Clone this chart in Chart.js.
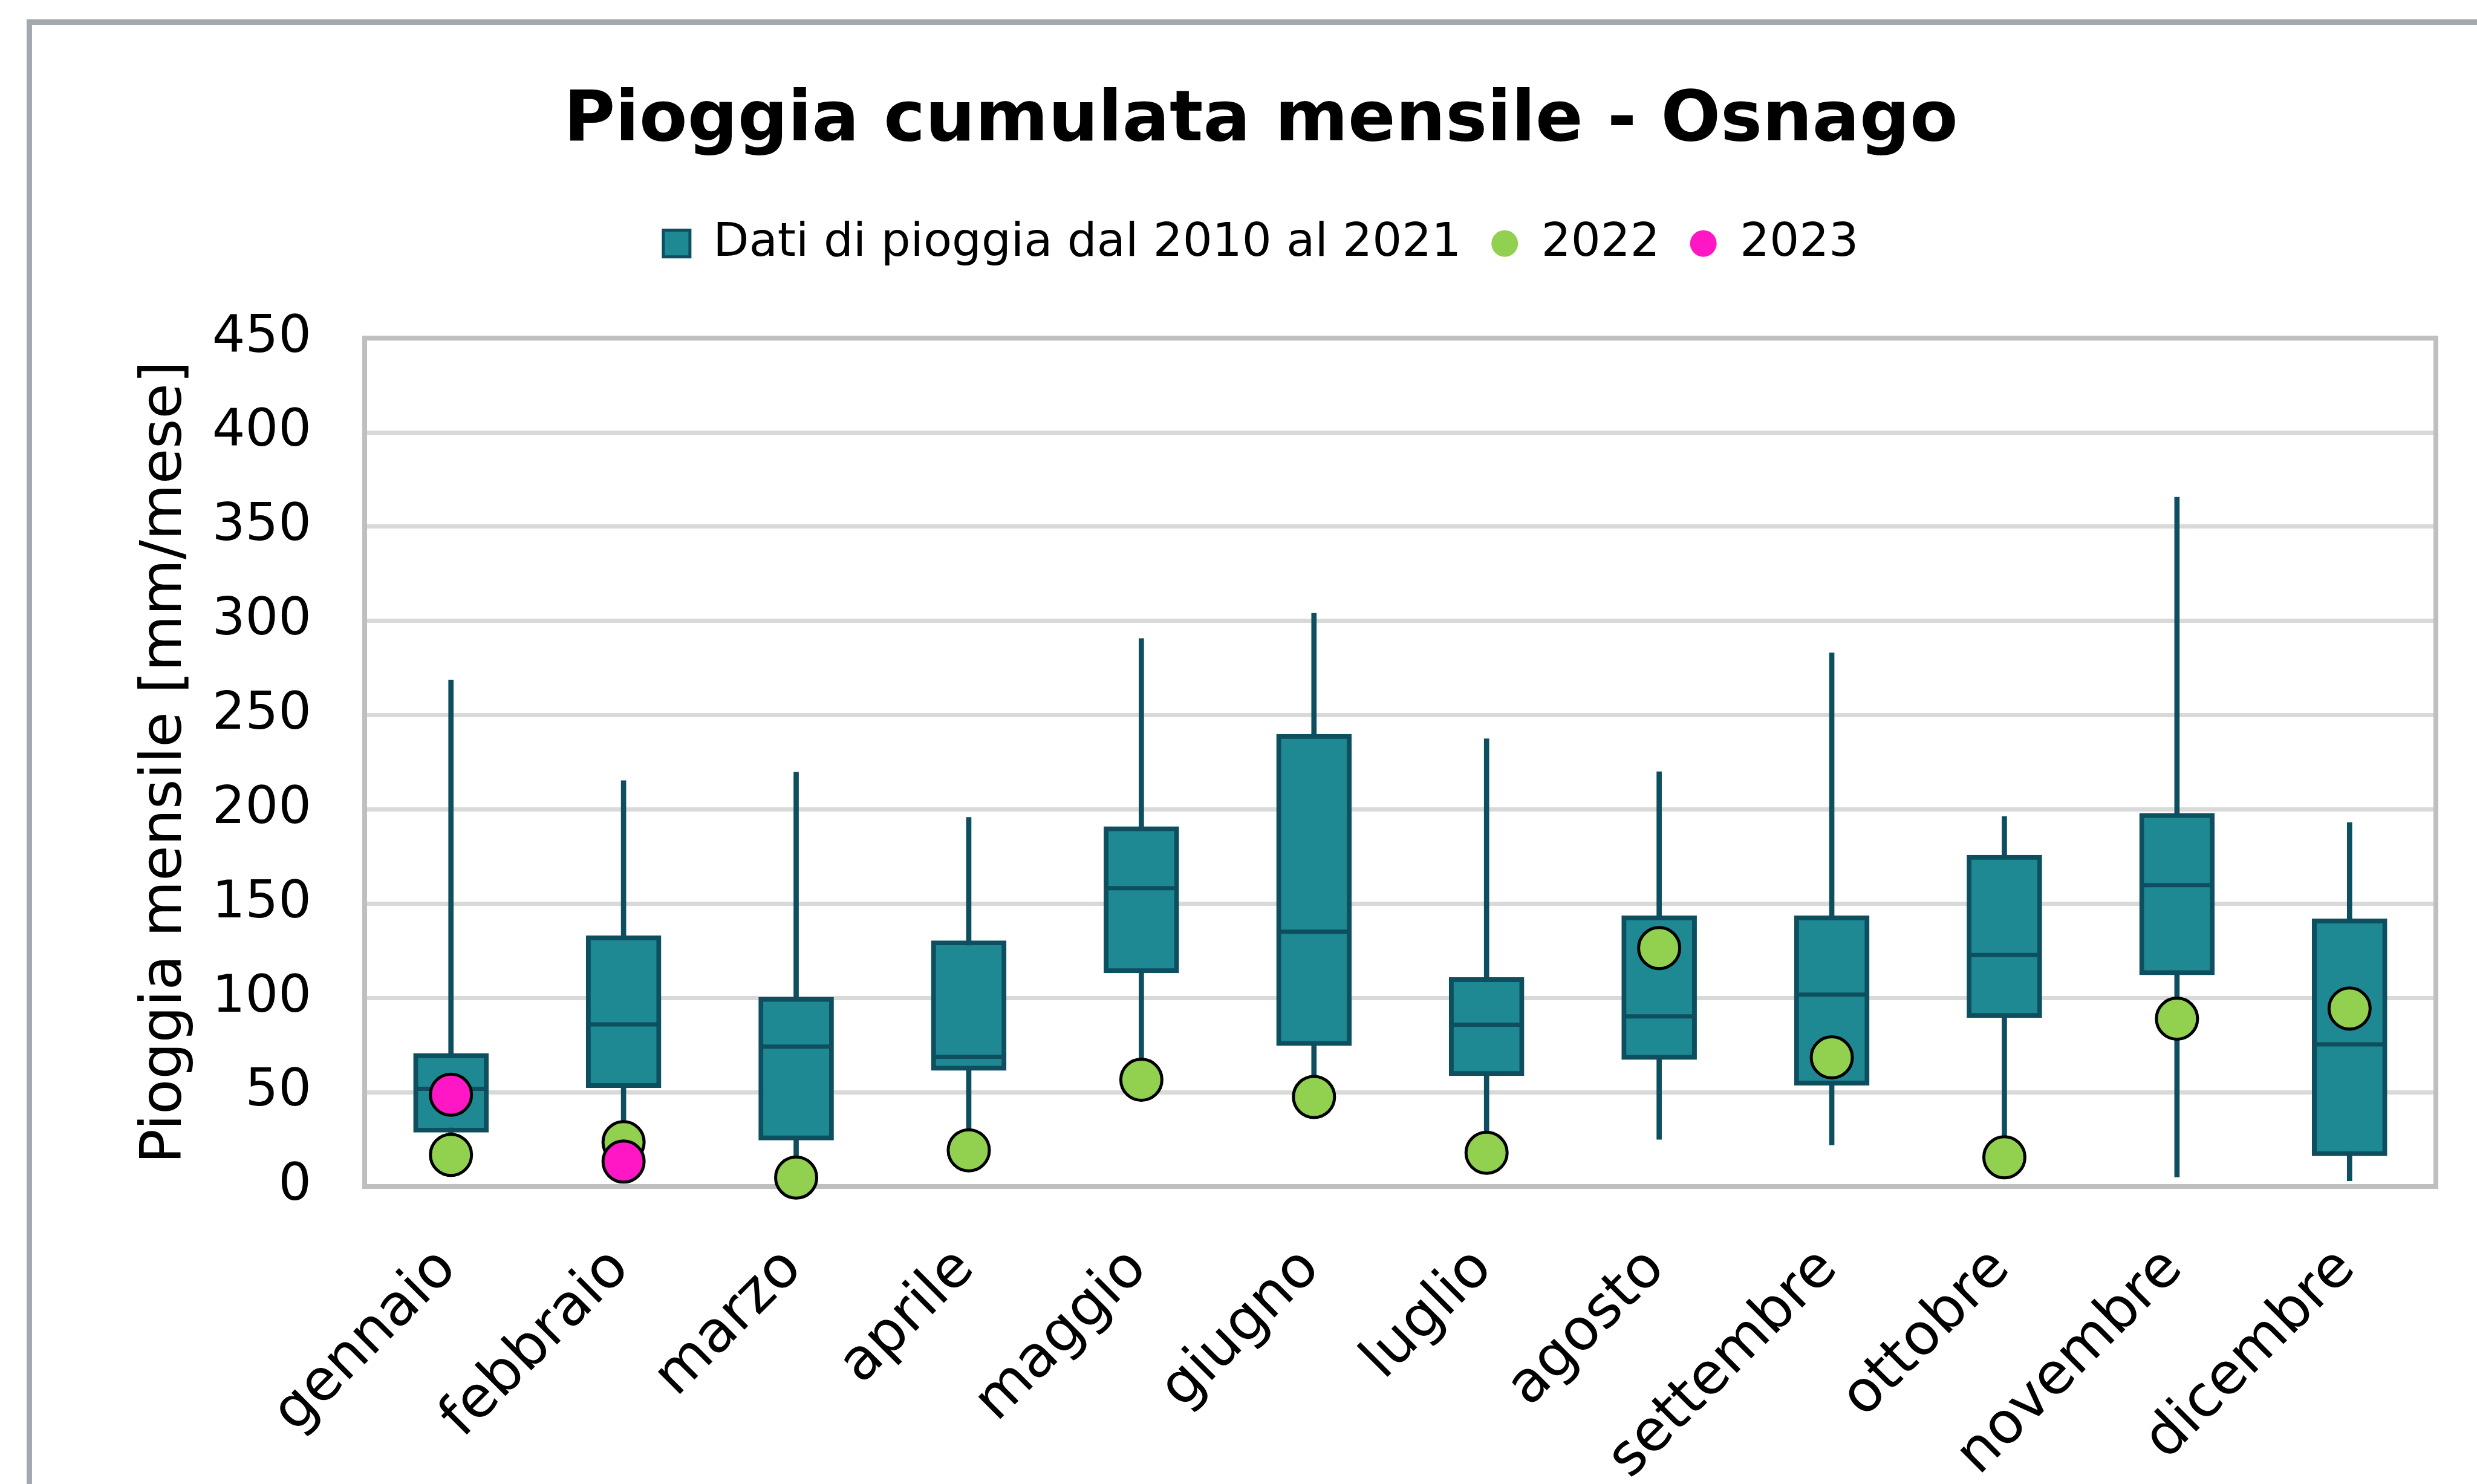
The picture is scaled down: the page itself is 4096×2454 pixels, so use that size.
<!DOCTYPE html>
<html lang="it">
<head>
<meta charset="utf-8">
<title>Pioggia cumulata mensile - Osnago</title>
<script src="https://cdn.jsdelivr.net/npm/chart.js@4.4.1/dist/chart.umd.min.js"></script>
<style>
  html, body { margin: 0; padding: 0; background: #fff; overflow: hidden; }
  #wrap { position: relative; width: 4096px; height: 2454px; }
  #frame { position: absolute; left: 44px; top: 32px; right: -30px; bottom: -30px; border: 9px solid #a2a7b0; }
  #chart { position: absolute; left: 0; top: 0; }
</style>
</head>
<body>
<div id="wrap">
  <div id="frame"></div>
  <canvas id="chart" width="4096" height="2454"></canvas>
</div>
<script>
// mesi
const mesi = ['gennaio', 'febbraio', 'marzo', 'aprile', 'maggio', 'giugno',
  'luglio', 'agosto', 'settembre', 'ottobre', 'novembre', 'dicembre'];

// statistiche 2010-2021 (mm/mese)
const minimo  = [20, 25, 6, 20, 57, 48, 18, 25, 22, 16, 5, 3];
const q1      = [28.7, 52.4, 24.6, 61.5, 113.3, 74.7, 58.7, 67.3, 53.7, 89.5, 112.2, 16.2];
const mediana = [51.8, 86, 74.2, 68.8, 158.2, 135.1, 85.8, 90.2, 101.8, 122.8, 159.8, 75.4];
const q3      = [70.6, 133, 100.5, 130.4, 190.9, 239.9, 110.9, 143.7, 143.7, 175.8, 198, 142];
const massimo = [268.7, 215.3, 219.8, 195.8, 290.7, 304.1, 237.5, 220, 283.1, 196.3, 365.7, 193.1];

// anni singoli
const pioggia2022 = [16.8, 23.5, 4.7, 19.2, 56.6, 47.5, 17.9, 126.5, 68.5, 15.5, 89, 94.4];
const pioggia2023 = [48.7, 13.2, null, null, null, null, null, null, null, null, null, null];

// assi
const yMin = 0;
const yMax = 450;
const yStep = 50;

const tealFill = '#1f8993';
const tealDark = '#0e4f5f';
const verde = '#92d050';
const rosa = '#ff17c6';
const font = 'DejaVu Sans';

// bordo dell'area del grafico
const plotBorder = {
  id: 'plotBorder',
  beforeDatasetsDraw(chart) {
    const { ctx, chartArea: a } = chart;
    ctx.save();
    ctx.strokeStyle = '#bfbfbf';
    ctx.lineWidth = 8;
    ctx.strokeRect(a.left, a.top, a.right - a.left, a.bottom - a.top);
    ctx.restore();
  }
};

const ctx = document.getElementById('chart').getContext('2d');

new Chart(ctx, {
  data: {
    labels: mesi,
    datasets: [
      {
        type: 'bar',
        label: 'baffi',
        data: mesi.map((m, i) => [minimo[i], massimo[i]]),
        backgroundColor: tealDark,
        borderWidth: 0,
        barThickness: 8,
        grouped: false,
        order: 5
      },
      {
        type: 'bar',
        label: 'Dati di pioggia dal 2010 al 2021',
        data: mesi.map((m, i) => [q1[i], q3[i]]),
        backgroundColor: tealFill,
        borderColor: tealDark,
        borderWidth: 8,
        borderSkipped: false,
        barThickness: 124,
        grouped: false,
        order: 4
      },
      {
        type: 'line',
        label: 'mediana',
        data: mediana,
        showLine: false,
        pointStyle: 'line',
        pointRadius: 58,
        pointHoverRadius: 58,
        pointBorderWidth: 7,
        pointBorderColor: tealDark,
        order: 3
      },
      {
        type: 'line',
        label: '2022',
        data: pioggia2022,
        showLine: false,
        pointStyle: 'circle',
        pointRadius: 34,
        pointHoverRadius: 34,
        pointBorderWidth: 5,
        pointBackgroundColor: verde,
        pointBorderColor: '#000',
        clip: false,
        order: 2
      },
      {
        type: 'line',
        label: '2023',
        data: pioggia2023,
        showLine: false,
        pointStyle: 'circle',
        pointRadius: 34,
        pointHoverRadius: 34,
        pointBorderWidth: 5,
        pointBackgroundColor: rosa,
        pointBorderColor: '#000',
        clip: false,
        order: 1
      }
    ]
  },
  options: {
    responsive: false,
    animation: false,
    devicePixelRatio: 1,
    events: [],
    layout: { padding: { left: 142, right: 68, top: 60, bottom: 0 } },
    plugins: {
      tooltip: { enabled: false },
      title: {
        display: true,
        text: 'Pioggia cumulata mensile - Osnago',
        color: '#000',
        font: { family: font, size: 116, weight: 'bold' },
        padding: { top: 72, bottom: 43 }
      },
      subtitle: {
        // solo spazio tra legenda e grafico
        display: true,
        text: '',
        weight: 500,
        font: { size: 10 },
        padding: { top: 0, bottom: 96 }
      },
      legend: {
        display: true,
        position: 'top',
        labels: {
          color: '#000',
          font: { family: font, size: 77 },
          boxWidth: 44,
          boxHeight: 44,
          padding: 50,
          generateLabels: () => [
            { text: 'Dati di pioggia dal 2010 al 2021', fillStyle: tealFill, strokeStyle: tealDark, lineWidth: 5, borderRadius: 0, datasetIndex: 1, hidden: false },
            { text: '2022', fillStyle: verde, strokeStyle: verde, lineWidth: 0, borderRadius: 22, datasetIndex: 3, hidden: false },
            { text: '2023', fillStyle: rosa, strokeStyle: rosa, lineWidth: 0, borderRadius: 22, datasetIndex: 4, hidden: false }
          ]
        }
      }
    },
    scales: {
      x: {
        offset: true,
        grid: { display: false },
        border: { display: false },
        ticks: {
          color: '#000',
          font: { family: font, size: 95 },
          autoSkip: false,
          minRotation: 45,
          maxRotation: 45,
          padding: 73,
          labelOffset: -5
        },
        afterFit: s => { s.height = 492; }
      },
      y: {
        min: yMin,
        max: yMax,
        grid: { color: '#d9d9d9', lineWidth: 7, drawTicks: false },
        border: { display: false },
        ticks: {
          stepSize: yStep,
          color: '#000',
          font: { family: font, size: 86 },
          padding: 88
        },
        title: {
          display: true,
          text: 'Pioggia mensile [mm/mese]',
          color: '#000',
          font: { family: font, size: 95 },
          padding: { top: 75, bottom: 0 }
        },
        afterFit: s => { s.width = 461; }
      }
    }
  },
  plugins: [plotBorder]
});
</script>
</body>
</html>
